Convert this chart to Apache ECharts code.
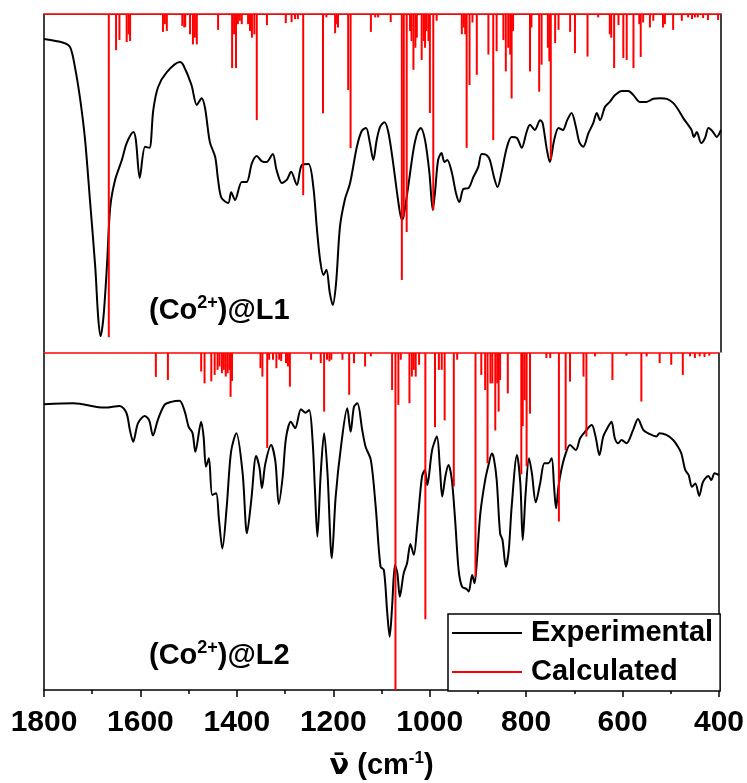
<!DOCTYPE html>
<html>
<head>
<meta charset="utf-8">
<script src="https://cdn.jsdelivr.net/npm/echarts@6/dist/echarts.min.js"></script>
<style>
html,body{margin:0;padding:0;background:#fff;}
#chart{width:747px;height:783px;}
</style>
</head>
<body>
<div id="chart"></div>
<script>
// ---- DATA ----
// x-axis tick labels (cm-1)
const xTicks = [1800, 1600, 1400, 1200, 1000, 800, 600, 400];

// Top panel: (Co2+)@L1 experimental spectrum (wavenumber, relative transmittance %)
const expL1Wn = [1800,1760,1746,1736,1725,1715,1705,1694,1688,1683,1677,1670,1663,1653,1639,1629,1615,1610,1602,1591,1582,1574,1564,1546,1519,1512,1495,1484,1474,1467,1457,1446,1440,1433,1419,1413,1405,1391,1381,1370,1360,1350,1340,1327,1319,1308,1298,1289,1277,1267,1253,1243,1236,1229,1222,1216,1209,1203,1196,1188,1178,1167,1153,1143,1134,1126,1119,1112,1105,1096,1088,1078,1067,1060,1056,1047,1036,1028,1021,1012,1003,996,991,985,978,972,966,957,948,941,933,922,912,902,895,885,878,869,862,854,843,833,822,812,802,795,785,774,769,760,754,745,736,727,718,709,700,693,685,674,664,657,650,640,630,619,605,592,581,568,554,540,526,512,499,488,478,468,461,456,450,441,433,426,420,415,409,400];
const expL1T = [92.6,91.5,90.2,84.3,74.6,62.7,45.0,25.1,10.4,4.7,10.4,25.1,42.9,50.9,56.8,61.8,65.1,62.7,51.5,60.7,60.4,71.6,78.4,82.8,85.8,84.9,79.0,73.1,75.1,72.2,62.1,57.7,50.9,45.6,44.1,47.3,45.0,50.3,50.3,55.9,58.0,56.5,56.2,58.6,53.8,50.0,50.9,53.3,49.4,55.3,55.6,48.8,37.0,27.2,22.8,24.3,17.5,13.9,20.4,37.0,45.0,50.0,60.7,65.4,66.3,61.8,56.8,62.7,66.6,68.0,65.1,55.9,44.1,39.1,40.5,48.8,59.8,64.8,66.3,62.7,53.0,42.0,47.9,56.8,58.9,56.2,56.8,53.3,47.0,44.4,48.2,48.5,51.8,54.7,58.6,58.3,56.8,51.5,48.8,53.0,60.4,63.6,63.3,60.4,65.1,67.2,65.7,68.6,67.8,59.8,56.2,62.7,66.3,65.7,68.6,70.7,66.6,62.1,60.7,64.8,67.8,70.7,68.6,72.5,74.0,76.0,77.2,77.2,76.0,74.0,74.0,74.9,75.1,74.9,73.7,71.6,69.2,67.2,65.7,63.6,65.1,61.8,63.3,66.3,65.7,64.8,63.6,65.7];

// Top panel: calculated lines (wavenumber, intensity % of panel height)
const calcL1Wn = [1666,1651,1644,1629,1625,1622,1554,1550,1546,1514,1510,1508,1498,1492,1488,1484,1440,1411,1407,1403,1399,1395,1391,1378,1374,1370,1365,1360,1339,1300,1288,1281,1275,1264,1223,1216,1198,1194,1192,1171,1166,1124,1115,1109,1083,1060,1056,1050,1043,1040,1036,1032,1029,1019,1015,1012,1009,1005,1002,995,988,936,932,929,926,920,914,905,881,871,864,850,845,840,836,833,830,795,792,776,771,758,755,752,743,736,712,702,676,654,630,627,621,612,602,595,581,569,566,561,547,540,520,516,499,481,468,460,454,448,437,427,406];
const calcL1I = [95.6,10.7,7.7,8.3,6,8,5.3,3,5,3.5,4,3.8,6,9,7,9,4.7,16,6,16,3,2,3,3,5,7,6,31.4,3.3,2.7,2.4,1.5,1.5,53.6,29.4,1,5.7,3,4,22.5,39.7,5.3,1,1,2.4,78.7,60,64.5,5,8,16.5,10,7,13.6,8,10,5,8,29.3,58,2,6,4,6,39.6,21,2.5,18,12,37.3,11,7.7,17,10,12,25,5,17,4,23,15,10,14,43,8.6,4.7,5.3,11.6,12.6,1,6,7,16,3.3,13,13.6,16,3,12.7,2.5,4,2,4,3,4.7,2,1,1.5,1,1,1.2,1.8,1.8];

// Bottom panel: (Co2+)@L2 experimental spectrum
const expL2Wn = [1800,1739,1674,1643,1629,1622,1615,1605,1591,1582,1574,1564,1550,1536,1519,1508,1500,1492,1486,1474,1469,1464,1458,1451,1443,1437,1430,1421,1412,1401,1388,1379,1370,1360,1353,1348,1341,1329,1320,1313,1305,1298,1288,1279,1267,1258,1250,1243,1238,1233,1226,1219,1212,1203,1195,1184,1171,1164,1157,1150,1140,1133,1122,1112,1102,1095,1088,1083,1078,1072,1067,1062,1054,1047,1040,1033,1026,1016,1010,1005,995,985,979,974,967,961,954,947,940,933,923,919,912,907,902,895,885,878,871,867,861,854,849,842,836,830,819,812,807,801,794,788,780,771,762,754,747,742,738,733,727,719,709,697,688,678,664,656,648,640,630,623,616,609,602,592,578,568,557,543,530,523,509,495,485,478,470,463,456,449,441,433,422,416,409,400];
const expL2T = [84.8,85.1,83.8,84.3,82.2,77.2,73.7,79.2,81.3,80.1,75.5,80.1,84.6,85.5,85.8,82.6,78.1,76.3,70.7,79.6,75.2,66.3,68.8,57.9,58.4,50.4,42.0,54.4,70.7,76.2,64.3,46.5,56.4,69.4,65.9,59.9,67.1,72.7,67.7,55.2,63.2,74.8,79.6,77.7,83.3,82.3,83.1,74.2,59.3,45.5,64.3,76.2,64.3,39.1,57.4,72.2,83.6,76.6,84.1,85.1,77.2,72.2,68.2,54.4,36.6,35.6,22.8,15.8,24.7,37.1,34.6,27.7,34.6,37.6,43.3,40.1,48.5,63.3,65.3,60.8,71.2,75.2,66.3,57.4,63.8,66.8,62.3,49.9,35.6,30.7,29.9,29.2,34.1,31.7,38.6,52.4,62.3,66.8,70.2,68.8,62.3,46.5,44.5,36.6,41.5,54.4,69.7,61.3,44.5,58.4,68.8,64.3,55.7,61.3,67.3,67.3,68.8,60.3,53.9,60.3,65.3,69.7,72.7,71.2,74.7,76.6,78.6,75.2,69.7,75.2,78.1,79.6,74.7,73.2,74.2,73.2,77.2,80.4,77.2,75.9,75.2,76.2,75.7,74.2,72.2,70.2,65.3,63.8,60.3,61.3,57.6,61.8,63.5,62.3,64.3,63.8];

// Bottom panel: calculated lines
const calcL2Wn = [1568,1543,1474,1467,1453,1446,1440,1436,1431,1427,1423,1419,1415,1413,1410,1351,1347,1337,1333,1325,1318,1312,1308,1298,1294,1290,1246,1226,1219,1213,1208,1204,1181,1167,1157,1134,1122,1078,1071,1065,1060,1042,1037,1033,1029,1022,1009,989,981,975,969,950,943,905,893,885,880,874,870,864,860,857,854,838,810,807,803,799,792,758,750,732,718,709,681,675,657,621,592,561,550,523,499,475,460,450,440,430,420];
const calcL2I = [7.1,8,5.5,9,8.4,6.5,5,4,6,5,7,6,5,13,8.3,4.5,7,28.2,2,2,4.5,2,2.4,3,4,10,2,3,17.4,2,2.5,2,2,12.4,3,4,1,11,100,15.4,2,14.9,7,5,7,3.5,79,22,5,5,20,39.6,2,66.4,6.5,11,32.7,9,9,23,9,17.4,8,12,36,21.7,14,33.6,18,1.5,1.5,50,28.8,8.5,7,24.8,1,8,0.8,14.4,1,3,3.5,6.5,1,1.5,1,1.2,0.8];

const panelLabels = ['L1', 'L2'];
const legendNames = ['Experimental', 'Calculated'];

// ---- BUILD ----
const zip = (a, b) => a.map((v, i) => [v, b[i]]);
const FONT = 'Liberation Sans, Arial, sans-serif';
const chart = echarts.init(document.getElementById('chart'), null, {renderer: 'canvas'});

const xBase = {
  type: 'value', min: 400, max: 1800, interval: 200, inverse: true,
  splitLine: {show: false}
};
const yHidden = {
  type: 'value', min: 0, max: 100,
  axisLabel: {show: false}, axisTick: {show: false}, splitLine: {show: false},
  axisLine: {show: true, onZero: false, lineStyle: {color: '#000', width: 1.5}}
};

function stickSeries(xi, yi, wn, inten) {
  return {
    name: legendNames[1], type: 'bar', xAxisIndex: xi, yAxisIndex: yi,
    data: zip(wn, inten), barWidth: 2, z: 3,
    itemStyle: {color: '#ff0000'},
    markLine: {
      silent: true, symbol: 'none', animation: false,
      label: {show: false},
      lineStyle: {color: '#ff0000', width: 1.5, type: 'solid'},
      data: [{yAxis: 0}]
    }
  };
}
function expSeries(xi, yi, wn, t) {
  return {
    name: legendNames[0], type: 'line', xAxisIndex: xi, yAxisIndex: yi,
    data: zip(wn, t), smooth: 0.3, showSymbol: false, symbol: 'none', z: 2,
    lineStyle: {color: '#000', width: 2}, itemStyle: {color: '#000'}
  };
}

const option = {
  animation: false,
  backgroundColor: '#fff',
  textStyle: {fontFamily: FONT},
  grid: [
    {left: 44, right: 26, top: 14, height: 338},
    {left: 44, right: 26, top: 353, height: 337}
  ],
  xAxis: [
    Object.assign({}, xBase, {
      gridIndex: 0, position: 'top',
      axisLine: {show: true, onZero: false, lineStyle: {color: '#555', width: 1}},
      axisTick: {show: false}, axisLabel: {show: false}
    }),
    Object.assign({}, xBase, {
      gridIndex: 1, position: 'bottom',
      axisLine: {show: true, onZero: false, lineStyle: {color: '#000', width: 1.5}},
      axisTick: {show: true, inside: false, length: 7, lineStyle: {color: '#000', width: 1.5}},
      minorTick: {show: true, splitNumber: 2, length: 4, lineStyle: {color: '#000', width: 1.5}},
      axisLabel: {show: true, margin: 18, fontSize: 30, fontWeight: 'bold', color: '#000', fontFamily: FONT,
        formatter: v => xTicks.indexOf(v) >= 0 ? String(v) : ''},
      name: '{n|\u03bd\u0304}{a| (cm}{s|-1}{a|)}',
      nameLocation: 'middle', nameGap: 60,
      nameTextStyle: {
        color: '#000',
        rich: {
          n: {fontSize: 29, fontWeight: 'bold', fontFamily: 'DejaVu Sans', color: '#000', lineHeight: 32},
          a: {fontSize: 29, fontWeight: 'bold', fontFamily: FONT, color: '#000', lineHeight: 32},
          s: {fontSize: 17, fontWeight: 'bold', fontFamily: FONT, color: '#000', verticalAlign: 'top', lineHeight: 18}
        }
      }
    })
  ],
  yAxis: [
    Object.assign({}, yHidden, {gridIndex: 0, position: 'left'}),
    Object.assign({}, yHidden, {gridIndex: 0, position: 'right', inverse: true}),
    Object.assign({}, yHidden, {gridIndex: 1, position: 'left'}),
    Object.assign({}, yHidden, {gridIndex: 1, position: 'right', inverse: true})
  ],
  legend: {
    orient: 'vertical', left: 448, top: 614,
    padding: [4, 7, 4, 4], itemGap: 9,
    itemWidth: 70, itemHeight: 2,
    borderColor: '#000', borderWidth: 1.5, borderRadius: 0,
    backgroundColor: '#fff',
    selectedMode: false,
    textStyle: {fontSize: 29, fontWeight: 'bold', color: '#000', fontFamily: FONT, lineHeight: 30, padding: [0, 0, 0, 4]},
    data: [{name: legendNames[0], icon: 'rect', itemStyle: {color: '#000'}},
           {name: legendNames[1], icon: 'rect', itemStyle: {color: '#ff0000'}}]
  },
  graphic: panelLabels.map((lab, i) => ({
    type: 'text', left: 149, top: i === 0 ? 294 : 639, z: 10,
    style: {
      text: '{a|(Co}{s|2+}{a|)@' + lab + '}',
      rich: {
        a: {fontSize: 29, fontWeight: 'bold', fontFamily: FONT, fill: '#000', lineHeight: 34},
        s: {fontSize: 18, fontWeight: 'bold', fontFamily: FONT, fill: '#000', verticalAlign: 'top', lineHeight: 20}
      }
    }
  })),
  series: [
    expSeries(0, 0, expL1Wn, expL1T),
    stickSeries(0, 1, calcL1Wn, calcL1I),
    expSeries(1, 2, expL2Wn, expL2T),
    stickSeries(1, 3, calcL2Wn, calcL2I)
  ]
};
chart.setOption(option);
</script>
</body>
</html>
